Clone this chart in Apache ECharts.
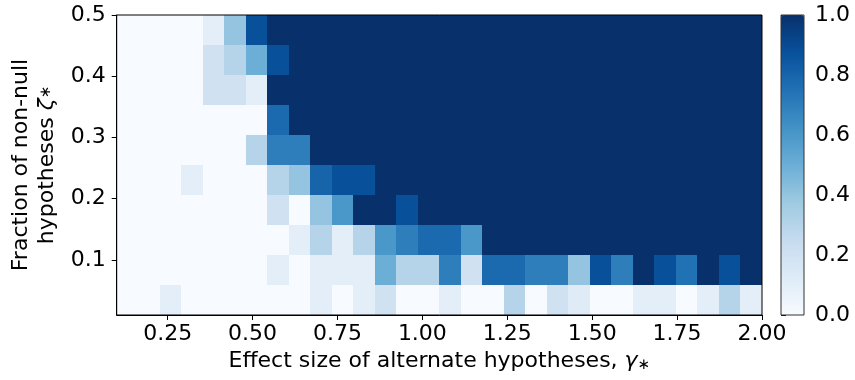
<!DOCTYPE html>
<html>
<head>
<meta charset="utf-8">
<script src="https://cdn.jsdelivr.net/npm/echarts@6/dist/echarts.min.js"></script>
<style>
  html, body { margin: 0; padding: 0; background: #fff; }
  #chart { width: 855px; height: 380px; }
</style>
</head>
<body>
<div id="chart"></div>
<script>
// grid extent (imshow extent)
var xMin = 0.1, xMax = 2.0, yMin = 0.01, yMax = 0.5;
var nCols = 30, nRows = 10;

var xTicks = [0.25, 0.5, 0.75, 1.0, 1.25, 1.5, 1.75, 2.0];
var yTicks = [0.1, 0.2, 0.3, 0.4, 0.5];

// power values, row 0 = bottom (smallest zeta), 30 columns each
var row0 = [0, 0, 0.1, 0, 0, 0, 0, 0, 0, 0.1, 0, 0.1, 0.2, 0, 0, 0.1, 0, 0, 0.3, 0, 0.2, 0.12, 0, 0, 0.1, 0.1, 0, 0.1, 0.3, 0.1];
var row1 = [0, 0, 0, 0, 0, 0, 0, 0.1, 0, 0.1, 0.1, 0.1, 0.5, 0.3, 0.3, 0.7, 0.2, 0.78, 0.78, 0.7, 0.7, 0.4, 0.88, 0.7, 1, 0.88, 0.75, 1, 0.88, 1];
var row2 = [0, 0, 0, 0, 0, 0, 0, 0, 0.1, 0.3, 0.1, 0.3, 0.6, 0.7, 0.78, 0.78, 0.6, 1, 1, 1, 1, 1, 1, 1, 1, 1, 1, 1, 1, 1];
var row3 = [0, 0, 0, 0, 0, 0, 0, 0.2, 0, 0.4, 0.6, 1, 1, 0.88, 1, 1, 1, 1, 1, 1, 1, 1, 1, 1, 1, 1, 1, 1, 1, 1];
var row4 = [0, 0, 0, 0.1, 0, 0, 0, 0.3, 0.4, 0.8, 0.88, 0.88, 1, 1, 1, 1, 1, 1, 1, 1, 1, 1, 1, 1, 1, 1, 1, 1, 1, 1];
var row5 = [0, 0, 0, 0, 0, 0, 0.3, 0.7, 0.7, 1, 1, 1, 1, 1, 1, 1, 1, 1, 1, 1, 1, 1, 1, 1, 1, 1, 1, 1, 1, 1];
var row6 = [0, 0, 0, 0, 0, 0, 0, 0.78, 1, 1, 1, 1, 1, 1, 1, 1, 1, 1, 1, 1, 1, 1, 1, 1, 1, 1, 1, 1, 1, 1];
var row7 = [0, 0, 0, 0, 0.2, 0.2, 0.1, 1, 1, 1, 1, 1, 1, 1, 1, 1, 1, 1, 1, 1, 1, 1, 1, 1, 1, 1, 1, 1, 1, 1];
var row8 = [0, 0, 0, 0, 0.2, 0.3, 0.5, 0.88, 1, 1, 1, 1, 1, 1, 1, 1, 1, 1, 1, 1, 1, 1, 1, 1, 1, 1, 1, 1, 1, 1];
var row9 = [0, 0, 0, 0, 0.1, 0.4, 0.88, 1, 1, 1, 1, 1, 1, 1, 1, 1, 1, 1, 1, 1, 1, 1, 1, 1, 1, 1, 1, 1, 1, 1];
var rows = [row0, row1, row2, row3, row4, row5, row6, row7, row8, row9];

var blues = ['#f7fbff', '#deebf7', '#c6dbef', '#9ecae1', '#6baed6', '#4292c6', '#2171b5', '#08519c', '#08306b'];

var dx = (xMax - xMin) / nCols;
var dy = (yMax - yMin) / nRows;

// cell centers
var cells = [];
rows.forEach(function (row, r) {
  row.forEach(function (v, c) {
    cells.push([xMin + (c + 0.5) * dx, yMin + (r + 0.5) * dy, v]);
  });
});

var font = 'DejaVu Sans';
var fs = 22;
var chart = echarts.init(document.getElementById('chart'));

var option = {
  animation: false,
  textStyle: { fontFamily: font },
  grid: [
    { left: 116.7, top: 15, width: 645.3, height: 300, show: true, backgroundColor: 'transparent', borderColor: '#000', borderWidth: 1, z: 10 },
    { left: 781, top: 15, width: 23, height: 300, show: true, backgroundColor: 'transparent', borderColor: '#333', borderWidth: 1, z: 10 }
  ],
  xAxis: [
    {
      type: 'value', gridIndex: 0, min: xMin, max: xMax,
      splitLine: { show: false },
      axisLine: { show: true, lineStyle: { color: '#000' } },
      axisTick: { show: true, length: 5, lineStyle: { color: '#000' }, customValues: xTicks },
      axisLabel: { fontSize: fs, color: '#000', margin: 8, customValues: xTicks,
        formatter: function (v) { return v.toFixed(2); } },
      name: '{t|Effect size of alternate hypotheses, }{g|γ}{s|∗}',
      nameLocation: 'middle', nameGap: 35,
      nameTextStyle: { rich: {
        t: { fontSize: fs, color: '#000', fontFamily: font },
        g: { fontSize: fs, color: '#000', fontFamily: font, fontStyle: 'italic' },
        s: { fontSize: 15, color: '#000', fontFamily: font, padding: [8, 0, 0, 0] }
      } }
    },
    { type: 'value', gridIndex: 1, min: 0, max: 1, show: false }
  ],
  yAxis: [
    {
      type: 'value', gridIndex: 0, min: yMin, max: yMax,
      splitLine: { show: false },
      axisLine: { show: true, lineStyle: { color: '#000' } },
      axisTick: { show: true, length: 5, lineStyle: { color: '#000' }, customValues: yTicks },
      axisLabel: { fontSize: fs, color: '#000', margin: 11, customValues: yTicks,
        formatter: function (v) { return v.toFixed(1); } },
      name: '{t|Fraction of non-null}\n{t|hypotheses }{g|ζ}{s|∗}',
      nameLocation: 'middle', nameRotate: 90, nameGap: 56,
      nameTextStyle: { align: 'center', rich: {
        t: { fontSize: fs, color: '#000', fontFamily: font, lineHeight: 26 },
        g: { fontSize: fs, color: '#000', fontFamily: font, fontStyle: 'italic', lineHeight: 26 },
        s: { fontSize: 15, color: '#000', fontFamily: font, lineHeight: 26, padding: [0, 0, 4, 0] }
      } }
    },
    {
      type: 'value', gridIndex: 1, min: 0, max: 1, interval: 0.2, position: 'right',
      splitLine: { show: false },
      axisLine: { show: false },
      axisTick: { show: true, length: 5, lineStyle: { color: '#000' } },
      axisLabel: { fontSize: fs, color: '#000', margin: 11,
        formatter: function (v) { return v.toFixed(1); } }
    }
  ],
  visualMap: {
    type: 'continuous', min: 0, max: 1, seriesIndex: 0, dimension: 2,
    left: 781, top: 15, itemWidth: 23, itemHeight: 300, padding: 0,
    calculable: false, hoverLink: false, showLabel: false,
    inRange: { color: blues }
  },
  series: [{
    type: 'custom',
    xAxisIndex: 0, yAxisIndex: 0,
    data: cells,
    encode: { x: 0, y: 1 },
    renderItem: function (params, api) {
      var xc = api.value(0), yc = api.value(1);
      var p0 = api.coord([xc - dx / 2, yc + dy / 2]);
      var p1 = api.coord([xc + dx / 2, yc - dy / 2]);
      var x0 = Math.round(p0[0]), y0 = Math.round(p0[1]);
      var x1 = Math.round(p1[0]), y1 = Math.round(p1[1]);
      return {
        type: 'rect',
        shape: { x: x0, y: y0, width: x1 - x0, height: y1 - y0 },
        style: { fill: api.visual('color'), stroke: null }
      };
    }
  }]
};

chart.setOption(option);
</script>
</body>
</html>
